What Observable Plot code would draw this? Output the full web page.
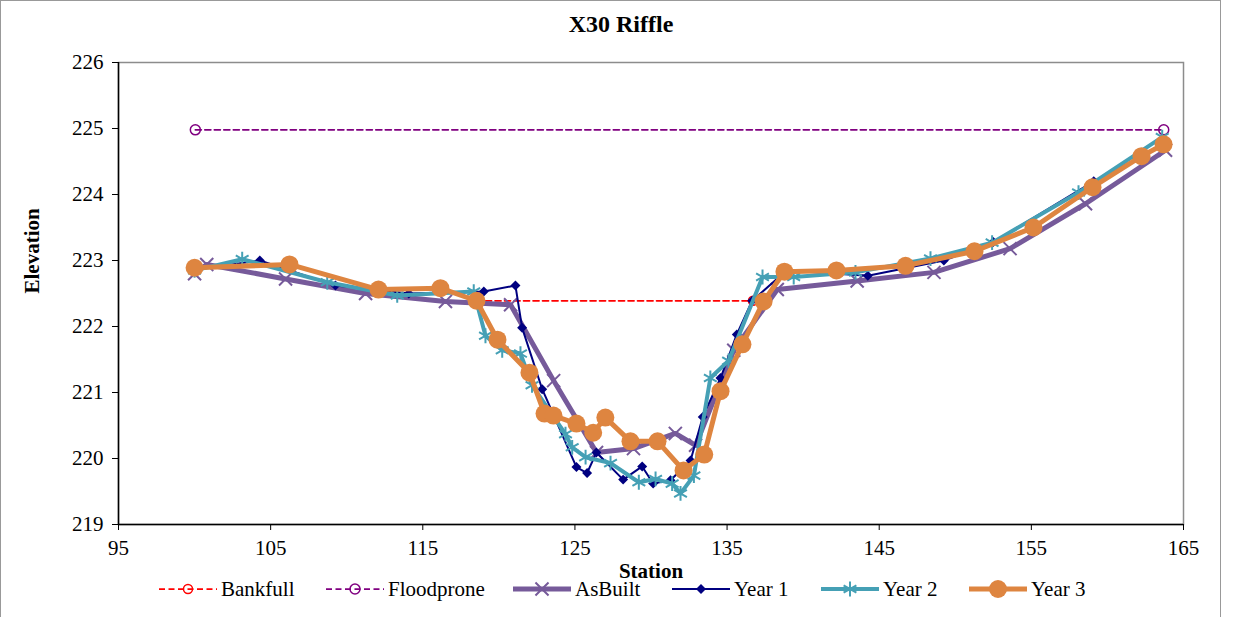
<!DOCTYPE html>
<html>
<head>
<meta charset="utf-8">
<script src="https://cdn.jsdelivr.net/npm/d3@7"></script>
<script src="https://cdn.jsdelivr.net/npm/@observablehq/plot@0.6"></script>
<style>
  html, body { margin: 0; padding: 0; background: #fff; }
  #wrap { position: relative; width: 1235px; height: 617px; overflow: hidden; font-family: "Liberation Serif", "Times New Roman", serif; }
  #border { position: absolute; left: 0; top: 0; width: 1221px; height: 640px; border: 1px solid #999; box-sizing: border-box; }
  #title { position: absolute; left: 0; width: 1242px; top: 11px; text-align: center; font-weight: bold; font-size: 24px; }
  #chart { position: absolute; left: 0; top: 0; }
  .item { position: absolute; top: 577px; height: 24px; display: flex; align-items: center; font-size: 21px; }
  .item svg { display: block; margin-right: 4px; }
</style>
</head>
<body>
<div id="wrap">
  <div id="border"></div>
  <div id="chart"></div>
  <div id="title">X30 Riffle</div>
  <div id="legend"></div>
</div>
<script>
// ---- data ----
const xTicks = [95, 105, 115, 125, 135, 145, 155, 165];
const yTicks = [219, 220, 221, 222, 223, 224, 225, 226];

const bankfullStation = [118.5, 136.7];
const bankfullElev    = [222.39, 222.39];

const floodproneStation = [100.05, 163.7];
const floodproneElev    = [224.98, 224.98];

const asBuiltStation = [100.0, 100.8, 105.98, 111.24, 116.49, 120.77, 123.6, 126.42, 128.85, 131.6, 132.93, 135.44, 138.3, 143.55, 148.6, 153.6, 158.56, 163.82];
const asBuiltElev    = [222.80, 222.94, 222.72, 222.50, 222.38, 222.33, 221.18, 220.09, 220.15, 220.38, 220.20, 221.64, 222.56, 222.69, 222.82, 223.18, 223.86, 224.67];

const year1Station = [100.0, 104.29, 109.26, 114.08, 119.01, 121.09, 121.53, 122.85, 125.1, 125.8, 126.41, 128.17, 129.42, 130.14, 131.28, 132.6, 133.4, 134.57, 135.64, 136.65, 138.9, 144.25, 149.25, 152.5, 159.1, 163.6];
const year1Elev    = [222.86, 223.00, 222.62, 222.50, 222.53, 222.62, 221.98, 221.05, 219.87, 219.78, 220.09, 219.68, 219.88, 219.62, 219.67, 219.97, 220.63, 221.22, 221.88, 222.39, 222.85, 222.77, 223.00, 223.28, 224.20, 224.74];

const year2Station = [100.0, 103.13, 108.72, 113.32, 118.35, 119.12, 120.22, 121.42, 122.18, 124.38, 124.82, 125.7, 127.34, 129.2, 130.3, 131.39, 131.94, 132.82, 133.9, 135.1, 137.33, 139.38, 143.44, 148.37, 152.42, 158.1, 163.6];
const year2Elev    = [222.85, 223.02, 222.67, 222.47, 222.53, 221.86, 221.64, 221.59, 221.11, 220.37, 220.17, 220.02, 219.93, 219.64, 219.69, 219.62, 219.47, 219.74, 221.22, 221.48, 222.75, 222.75, 222.82, 223.03, 223.27, 224.03, 224.87];

const year3Station = [100.0, 106.24, 112.09, 116.16, 118.53, 119.91, 122.01, 123.0, 123.59, 125.1, 126.2, 127.0, 128.65, 130.43, 132.14, 133.5, 134.57, 136.01, 137.4, 138.77, 142.19, 146.73, 151.26, 155.14, 159.02, 162.24, 163.69];
const year3Elev    = [222.89, 222.94, 222.56, 222.58, 222.39, 221.80, 221.30, 220.68, 220.65, 220.53, 220.39, 220.62, 220.26, 220.26, 219.82, 220.06, 221.02, 221.73, 222.38, 222.83, 222.85, 222.92, 223.14, 223.50, 224.11, 224.58, 224.76];

const seriesNames = ["Bankfull", "Floodprone", "AsBuilt", "Year 1", "Year 2", "Year 3"];

// ---- styles ----
const C = {
  bank: "#FF0000",
  flood: "#800080",
  asb: "#765A9A",
  y1: "#000080",
  y2: "#45A0B5",
  y3: "#DE8540"
};

const rows = (xs, ys) => xs.map((x, i) => ({x, y: ys[i]}));
const bankfull = rows(bankfullStation, bankfullElev);
const floodprone = rows(floodproneStation, floodproneElev);
const asBuilt = rows(asBuiltStation, asBuiltElev);
const year1 = rows(year1Station, year1Elev);
const year2 = rows(year2Station, year2Elev);
const year3 = rows(year3Station, year3Elev);

const plot = Plot.plot({
  width: 1235,
  height: 617,
  marginLeft: 118,
  marginRight: 52,
  marginTop: 62,
  marginBottom: 93,
  style: { fontFamily: "'Liberation Serif', 'Times New Roman', serif", fontSize: "21px", background: "transparent", color: "#000" },
  x: { domain: [95, 165] },
  y: { domain: [219, 226] },
  marks: [
    Plot.frame({ stroke: "#8c8c8c", strokeWidth: 1.5 }),
    Plot.ruleX([95], { stroke: "#000", strokeWidth: 1.5 }),
    Plot.ruleY([219], { stroke: "#000", strokeWidth: 1.5 }),
    Plot.axisX({ ticks: xTicks, tickSize: 6, tickPadding: 10, label: null, tickFormat: d => String(d) }),
    Plot.axisY({ ticks: yTicks, tickSize: 6, tickPadding: 9, label: null, tickFormat: d => String(d) }),
    Plot.text(["Station"], { frameAnchor: "bottom", dy: 53, fontWeight: "bold", fontSize: 21 }),
    Plot.text(["Elevation"], { frameAnchor: "left", dx: -86, rotate: -90, fontWeight: "bold", fontSize: 21 }),

    Plot.line(bankfull, { x: "x", y: "y", stroke: C.bank, strokeWidth: 1.75, strokeDasharray: "6,3.5" }),
    Plot.dot(bankfull, { x: "x", y: "y", r: 4.5, stroke: C.bank, fill: "none", strokeWidth: 1.5 }),

    Plot.line(floodprone, { x: "x", y: "y", stroke: C.flood, strokeWidth: 1.75, strokeDasharray: "6,3.5" }),
    Plot.dot(floodprone, { x: "x", y: "y", r: 5, stroke: C.flood, fill: "none", strokeWidth: 1.5 }),

    Plot.line(asBuilt, { x: "x", y: "y", stroke: C.asb, strokeWidth: 5 }),
    Plot.dot(asBuilt, { x: "x", y: "y", symbol: "times", r: 6, stroke: C.asb, fill: "none", strokeWidth: 2 }),

    Plot.line(year1, { x: "x", y: "y", stroke: C.y1, strokeWidth: 2 }),
    Plot.dot(year1, { x: "x", y: "y", symbol: "diamond2", r: 4.5, fill: C.y1, stroke: "none" }),

    Plot.line(year2, { x: "x", y: "y", stroke: C.y2, strokeWidth: 4 }),
    Plot.dot(year2, { x: "x", y: "y", symbol: "asterisk", r: 7, stroke: C.y2, fill: "none", strokeWidth: 2 }),

    Plot.line(year3, { x: "x", y: "y", stroke: C.y3, strokeWidth: 5 }),
    Plot.dot(year3, { x: "x", y: "y", r: 9, fill: C.y3, stroke: "none" })
  ]
});
document.getElementById("chart").appendChild(plot);

// ---- legend ----
const legendSpec = [
  { name: seriesNames[0], left: 159, color: C.bank, w: 1.75, dash: "6,3.5", sym: "circleOpen", size: 4.5 },
  { name: seriesNames[1], left: 326, color: C.flood, w: 1.75, dash: "6,3.5", sym: "circleOpen", size: 5 },
  { name: seriesNames[2], left: 513, color: C.asb, w: 5, dash: null, sym: "times", size: 6 },
  { name: seriesNames[3], left: 672, color: C.y1, w: 2, dash: null, sym: "diamond2", size: 4.5 },
  { name: seriesNames[4], left: 821, color: C.y2, w: 4, dash: null, sym: "asterisk", size: 7 },
  { name: seriesNames[5], left: 969, color: C.y3, w: 5, dash: null, sym: "circle", size: 9 }
];
const symMap = { times: d3.symbolTimes, diamond2: d3.symbolDiamond2, asterisk: d3.symbolAsterisk, circle: d3.symbolCircle };
const legend = document.getElementById("legend");
legendSpec.forEach(s => {
  const div = document.createElement("div");
  div.className = "item";
  div.style.left = s.left + "px";
  const W = 58, H = 24, cx = W / 2, cy = H / 2;
  let marker = "";
  if (s.sym === "circleOpen") {
    marker = `<circle cx="${cx}" cy="${cy}" r="${s.size}" fill="none" stroke="${s.color}" stroke-width="1.5"/>`;
  } else {
    const p = d3.symbol(symMap[s.sym], s.size * s.size * Math.PI)();
    const filled = s.sym === "diamond2" || s.sym === "circle";
    marker = `<path transform="translate(${cx},${cy})" d="${p}" ${filled ? `fill="${s.color}"` : `fill="none" stroke="${s.color}" stroke-width="2"`}/>`;
  }
  div.innerHTML = `<svg width="${W}" height="${H}"><line x1="0" x2="${W}" y1="${cy}" y2="${cy}" stroke="${s.color}" stroke-width="${s.w}" ${s.dash ? `stroke-dasharray="${s.dash}"` : ""}/>${marker}</svg><span>${s.name}</span>`;
  legend.appendChild(div);
});
</script>
</body>
</html>
